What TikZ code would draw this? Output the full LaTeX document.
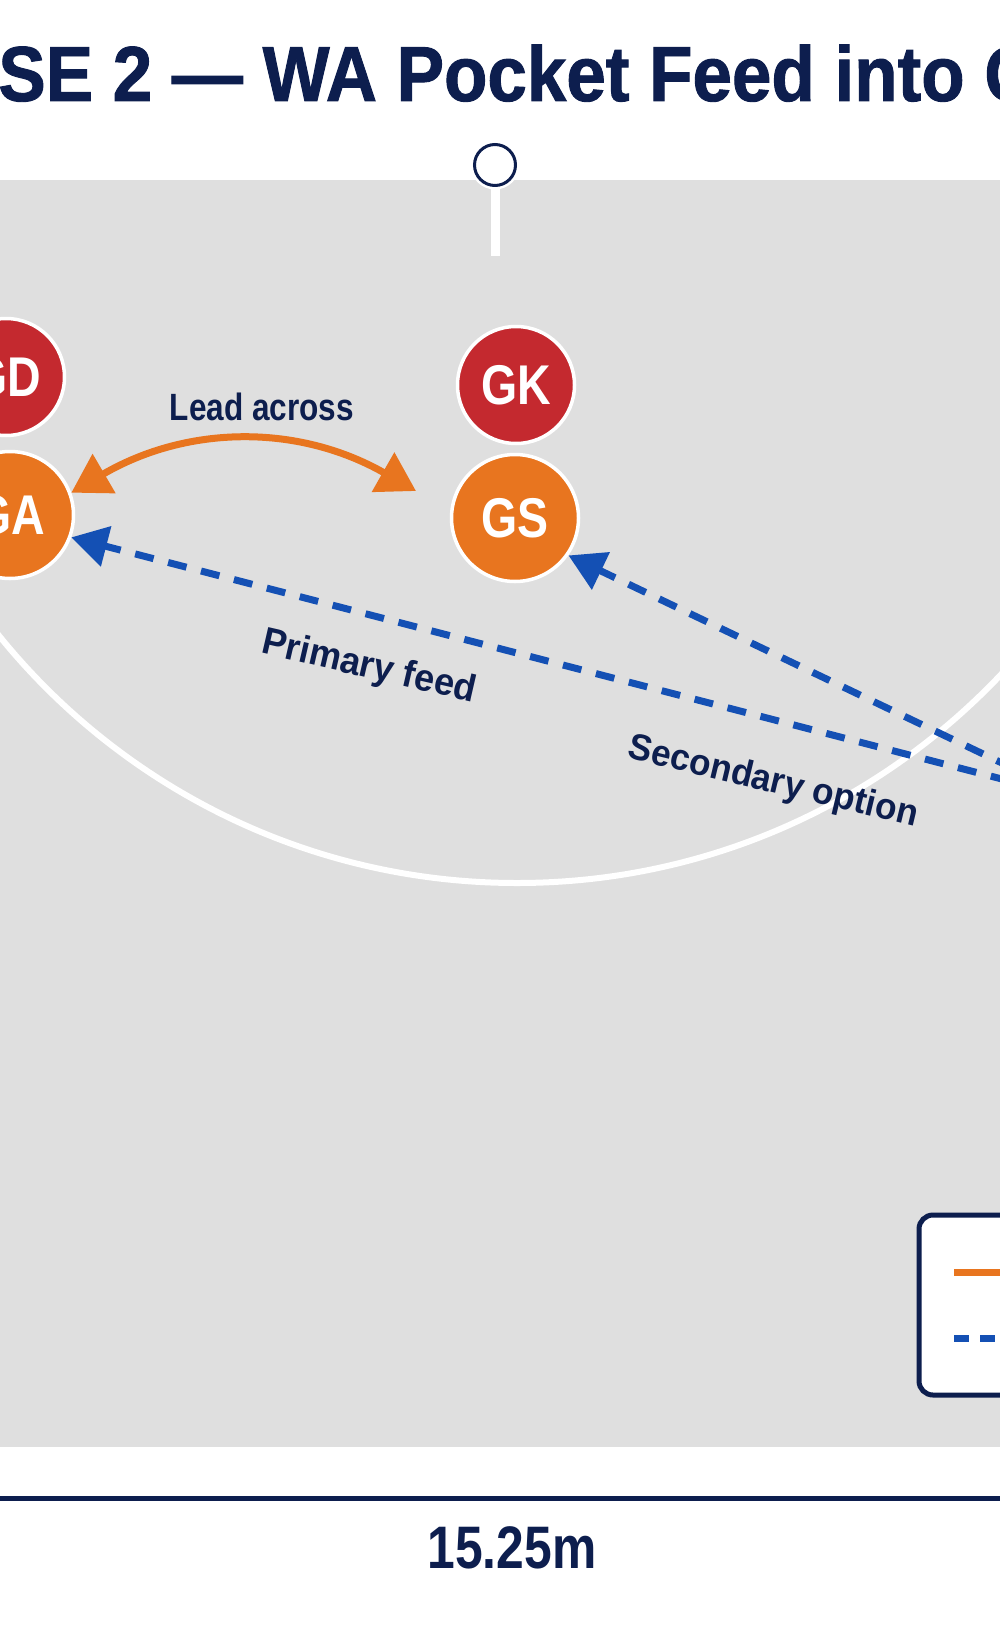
\documentclass[tikz,border=0pt]{standalone}
\usepackage{fontspec}
\usetikzlibrary{arrows.meta}
\newfontfamily\fTitle{Liberation Sans}[FakeStretch=0.91, FakeBold=1.2]
\newfontfamily\fCond{Liberation Sans}[FakeStretch=0.83]
\newfontfamily\fLab{Liberation Sans}[FakeStretch=0.95]
\definecolor{cNavy}{HTML}{0D1E4E}
\definecolor{cCourt}{HTML}{DFDFDF}
\definecolor{cOrange}{HTML}{E8751F}
\definecolor{cRed}{HTML}{C4292F}
\definecolor{cBlue}{HTML}{1450B4}
\tikzset{
  player/.style={circle, draw=white, line width=1.75pt, inner sep=0pt, text=white,
    font=\fCond\bfseries\fontsize{28}{28}\selectfont},
  defender/.style={player, fill=cRed, minimum size=58.5pt},
  attacker/.style={player, fill=cOrange, minimum size=63.5pt},
  lbl/.style={text=cNavy, inner sep=0pt},
  leadarrow/.style={cOrange, line width=3.5pt, {Triangle[length=19pt,width=22pt]}-{Triangle[length=19pt,width=22pt]}},
  passarrow/.style={cBlue, line width=3.5pt, dash pattern=on 9.5pt off 7.5pt, -{Triangle[length=18pt,width=20pt]}},
}
\begin{document}
\begin{tikzpicture}[x=0.5pt, y=-0.5pt]
\useasboundingbox (0,0) rectangle (1000,1632);
\clip (0,0) rectangle (1000,1632);
\fill[white] (0,0) rectangle (1000,1632);

% title
\node[lbl, anchor=base west, font=\fTitle\bfseries\fontsize{39}{39}\selectfont] (title) at (-2,101)
  {\llap{PHA}SE 2 — WA Pocket Feed into GS};

% court
\fill[cCourt] (-10,180) rectangle (1010,1447);
\begin{scope}
  \clip (-10,180) rectangle (1010,1447);
  \draw[white, line width=3pt] (517,217) circle[radius=666];
\end{scope}

% goal post
\coordinate (postEnd) at (495,256);
\node[circle, draw=cNavy, line width=1.5pt, fill=white, minimum size=20.5pt, inner sep=0pt,
  preaction={draw=white, line width=4pt}] (ring) at (495,165) {};
\draw[white, line width=4.5pt] (ring.south) -- (postEnd);

% players
\node[defender] (GD) at (6,377) {GD};
\node[attacker] (GA) at (10,515) {GA};
\node[defender] (GK) at (516,385) {GK};
\node[attacker] (GS) at (515,518) {GS};

% lead across
\node[lbl, anchor=base, font=\fCond\bfseries\fontsize{19}{19}\selectfont] (lead) at (262,420) {Lead across};
\coordinate (leadEnd) at (416,491);
\draw[leadarrow] (GA.20) to[bend left=30] (leadEnd);

% passes
\coordinate (wa) at (1075,798);
\draw[passarrow] (wa) -- (GA.-20);
\draw[passarrow] (wa) -- (GS.-35);
\node[lbl, rotate=-13, font=\fLab\bfseries\fontsize{19}{19}\selectfont] (primary) at (369,668) {Primary feed};
\node[lbl, rotate=-13.5, font=\fLab\bfseries\fontsize{18.5}{18.5}\selectfont] (secondary) at (773,783) {Secondary option};

% legend
\draw[cNavy, line width=2.5pt, fill=white, rounded corners=7pt] (919,1215) rectangle (1130,1395);
\draw[cOrange, line width=3.5pt] (954,1272) -- (1050,1272);
\draw[cBlue, line width=3.5pt, dash pattern=on 7.5pt off 5.5pt] (954,1338) -- (1050,1338);

% dimension
\draw[cNavy, line width=2.5pt] (-10,1498) -- (1010,1498);
\node[lbl, anchor=base, font=\fCond\bfseries\fontsize{30}{30}\selectfont] (dim) at (512,1568) {15.25m};
\end{tikzpicture}
\end{document}
